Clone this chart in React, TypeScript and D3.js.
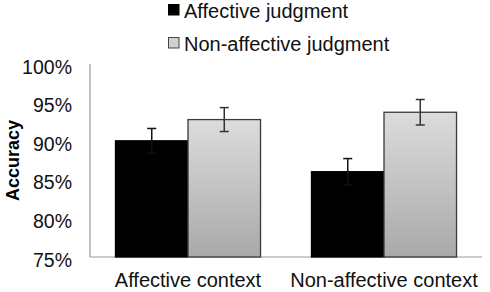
import React from "react";
import * as d3 from "d3";

const contexts = ["Affective context", "Non-affective context"];
const judgments = ["Affective judgment", "Non-affective judgment"];
const affectiveValues = [90.05, 86.05];
const nonAffectiveValues = [92.8, 93.75];
const affectiveErrors = [1.6, 1.7];
const nonAffectiveErrors = [1.55, 1.65];
const yTicks = [75, 80, 85, 90, 95, 100];

const W = 490;
const H = 292;
const left = 90;
const right = 482;
const top = 64;
const bottom = 257;
const font = "Arial, 'Liberation Sans', Helvetica, sans-serif";

export default function App() {
  const x0 = d3.scaleBand<string>().domain(contexts).range([left, right]).paddingInner(0.26).paddingOuter(0.13);
  const x1 = d3.scaleBand<string>().domain(judgments).range([0, x0.bandwidth()]);
  const y = d3.scaleLinear().domain([75, 100]).range([bottom, top]);
  const series = [
    { name: judgments[0], values: affectiveValues, errors: affectiveErrors },
    { name: judgments[1], values: nonAffectiveValues, errors: nonAffectiveErrors },
  ];

  return (
    <svg width={W} height={H} style={{ position: "absolute", left: 0, top: 0, background: "#fff" }}>
      <defs>
        <linearGradient id="grayGrad" x1="0" y1="0" x2="0" y2="1">
          <stop offset="0%" stopColor="#dcdcdc" />
          <stop offset="100%" stopColor="#a9a9a9" />
        </linearGradient>
      </defs>
      {/* axes */}
      <line x1={left} x2={left} y1={top} y2={bottom} stroke="#999" strokeWidth={1.2} />
      <line x1={left} x2={right} y1={bottom} y2={bottom} stroke="#999" strokeWidth={1.2} />
      {yTicks.map((t) => (
        <text key={t} x={72} y={y(t) + 9.5} textAnchor="end" fontFamily={font} fontSize={19.5} fill="#111">
          {t}%
        </text>
      ))}
      <text
        transform={`translate(19,${(top + bottom) / 2}) rotate(-90)`}
        textAnchor="middle"
        fontFamily={font}
        fontSize={18}
        fontWeight="bold"
        fill="#000"
      >
        Accuracy
      </text>
      {/* bars */}
      {contexts.map((c, ci) => (
        <g key={c}>
          {series.map((s, si) => {
            const bx = (x0(c) as number) + (x1(s.name) as number);
            const bw = x1.bandwidth();
            const v = s.values[ci];
            const e = s.errors[ci];
            const cx = bx + bw / 2;
            const ec = si === 0 ? "#111" : "#333";
            return (
              <g key={s.name}>
                <rect
                  x={bx}
                  y={y(v)}
                  width={bw}
                  height={bottom - y(v)}
                  fill={si === 0 ? "#000" : "url(#grayGrad)"}
                  stroke={si === 0 ? "#000" : "#3a3a3a"}
                  strokeWidth={1.3}
                />
                <line x1={cx} x2={cx} y1={y(v + e)} y2={y(v - e)} stroke={ec} strokeWidth={1.5} />
                <line x1={cx - 4.5} x2={cx + 4.5} y1={y(v + e)} y2={y(v + e)} stroke={ec} strokeWidth={1.5} />
                <line x1={cx - 4.5} x2={cx + 4.5} y1={y(v - e)} y2={y(v - e)} stroke={ec} strokeWidth={1.5} />
              </g>
            );
          })}
          <text
            x={(x0(c) as number) + x0.bandwidth() / 2}
            y={287}
            textAnchor="middle"
            fontFamily={font}
            fontSize={20}
            fill="#111"
          >
            {c}
          </text>
        </g>
      ))}
      {/* legend */}
      {judgments.map((j, i) => (
        <g key={j} transform={`translate(168,${4 + i * 33})`}>
          <rect
            x={0.5}
            y={0.5}
            width={10.5}
            height={10.5}
            fill={i === 0 ? "#000" : "#d0d0d0"}
            stroke={i === 0 ? "#000" : "#444"}
            strokeWidth={1}
          />
          <text x={16} y={14} fontFamily={font} fontSize={20} fill="#111">
            {j}
          </text>
        </g>
      ))}
    </svg>
  );
}
